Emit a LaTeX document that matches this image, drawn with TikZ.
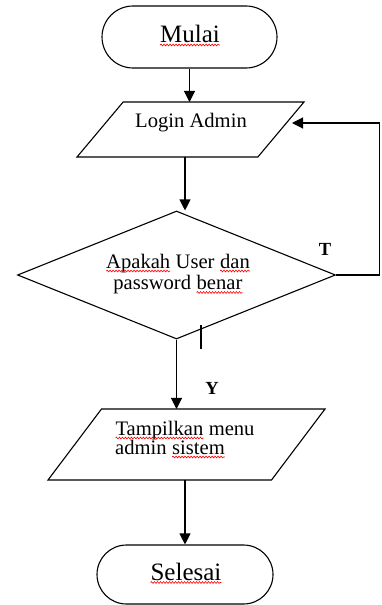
\documentclass[tikz,border=0pt]{standalone}
\usepackage{fontspec}
\setmainfont{Liberation Serif}
\usetikzlibrary{shapes.geometric,shapes.misc,arrows.meta,decorations.pathmorphing}
\newcommand\redwave[1]{\tikz[baseline=(w.base),x=1pt,y=1pt]{\node[inner sep=0pt,outer sep=0pt,anchor=center] (w) {#1};\draw[red,line width=0.6pt,decorate,decoration={snake,amplitude=0.9pt,segment length=3pt}] ([yshift=-2.5pt]w.base west) -- ([yshift=-2.5pt]w.base east);}}
\begin{document}
\begin{tikzpicture}[x=1pt,y=-1pt,line width=1.1pt,
  term/.style={rounded rectangle,draw,inner sep=0pt},
  para/.style={trapezium,draw,outer sep=0pt},
  dia/.style={diamond,draw,inner sep=0pt},
  txt/.style={inner sep=0pt,font=\fontsize{20.6pt}{21.5pt}\selectfont},
  bigtxt/.style={inner sep=0pt,font=\fontsize{25pt}{27pt}\selectfont},
  lbl/.style={inner sep=0pt,font=\fontsize{18.5pt}{20pt}\selectfont\bfseries},
  arr/.style={-{Triangle[length=11pt,width=11pt]}}]
\useasboundingbox (0,0) rectangle (381,605);
% shapes
\node[term,minimum width=175pt,minimum height=62pt] (mulai) at (189.5,37) {};
\node[para,trapezium left angle=50,trapezium right angle=130,inner xsep=67.35pt,inner ysep=27.5pt] (login) at (190.5,129.5) {};
\node[dia,minimum width=318pt,minimum height=128pt] (dec) at (176.5,275) {};
\node[para,trapezium left angle=53,trapezium right angle=127,inner xsep=85pt,inner ysep=35.5pt] (tamp) at (186.5,444.5) {};
\node[term,minimum width=176pt,minimum height=59pt] (sel) at (185,574.5) {};
% texts
\node[bigtxt,anchor=base] (mulaiT) at (190,42.5) {\redwave{Mulai}};
\node[txt,anchor=base] (loginT) at (191,127.3) {Login Admin};
\node[txt,anchor=north,align=center] (decT) at (178,254) {\redwave{Apakah} User \redwave{dan}\\password \redwave{benar}};
\node[txt,anchor=north west,align=left,font=\fontsize{20.6pt}{19pt}\selectfont] (tampT) at (115,421) {\redwave{Tampilkan} menu\\admin \redwave{sistem}};
\node[bigtxt,anchor=base] (selT) at (186,580) {\redwave{Selesai}};
\node[lbl] (T) at (325,249) {T};
\node[lbl] (Y) at (212,388) {Y};
% connectors
\coordinate (rt) at (379.5,123);
\coordinate (loginin) at (292,123);
\coordinate (tickA) at (201,325);
\coordinate (tickB) at (201,349);
\draw[arr] (mulai.south) -- (mulai.south |- login.north);
\draw[arr] ([xshift=-5.5pt]login.south) -- ([xshift=-5.5pt]login.south |- dec.north);
\draw[arr] (dec.east) -| (rt) -- (loginin);
\draw[arr] (dec.south) -- (dec.south |- tamp.north);
\draw[arr] (tamp.south -| sel.north) -- (sel.north);
\draw (tickA) -- (tickB);
\end{tikzpicture}
\end{document}
